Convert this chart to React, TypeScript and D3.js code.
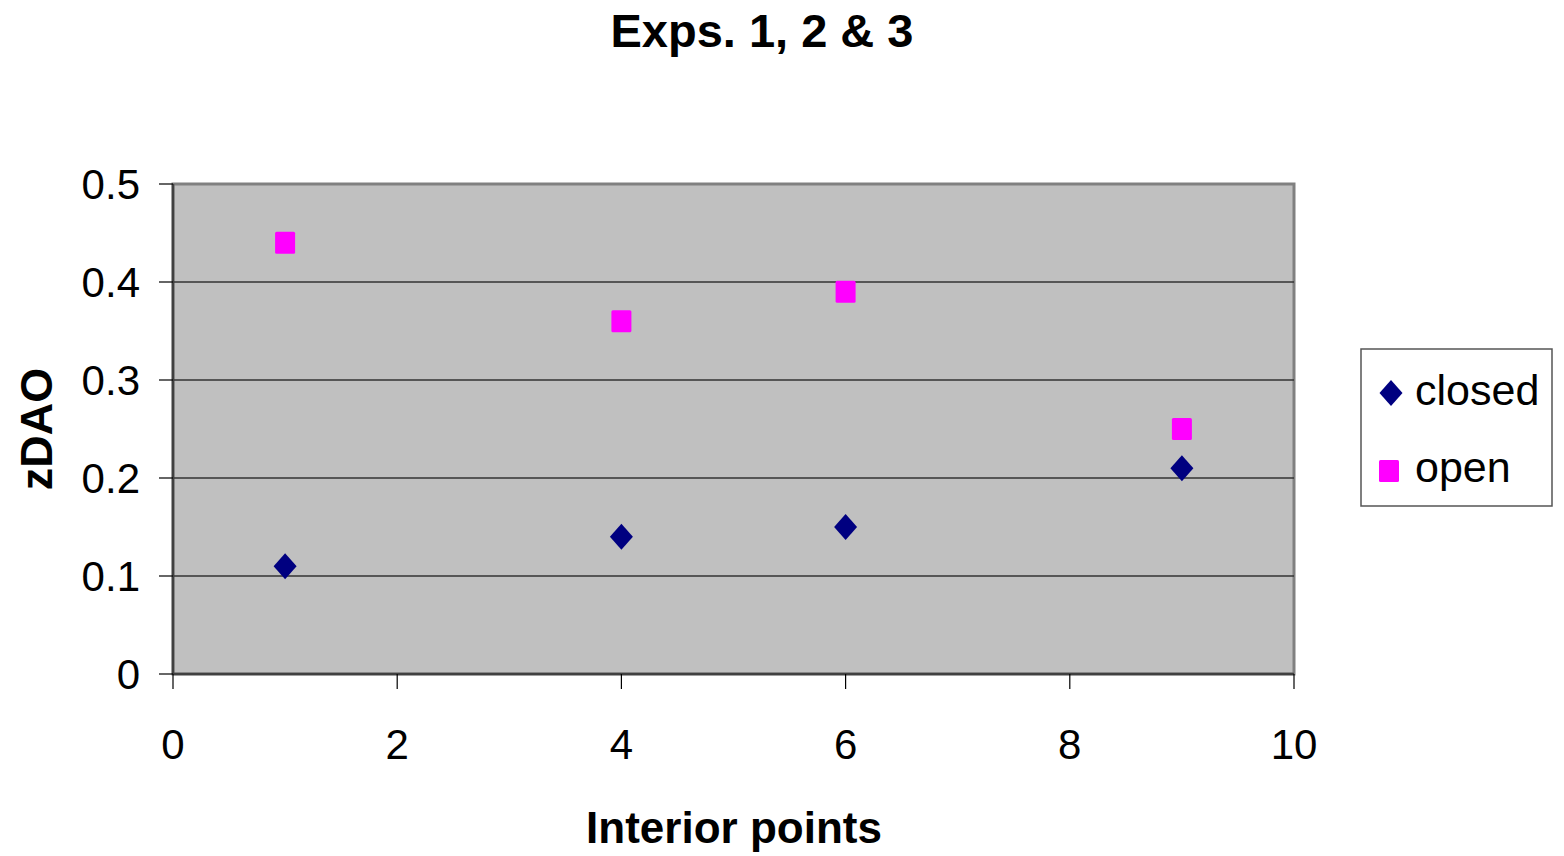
import React from "react";
import * as d3 from "d3";

const xClosed = [1, 4, 6, 9];
const yClosed = [0.11, 0.14, 0.15, 0.21];
const xOpen = [1, 4, 6, 9];
const yOpen = [0.44, 0.36, 0.39, 0.25];
const xTicks = [0, 2, 4, 6, 8, 10];
const yTicks = [0, 0.1, 0.2, 0.3, 0.4, 0.5];
const seriesNames = ["closed", "open"];
const title = "Exps. 1, 2 & 3";
const xTitle = "Interior points";
const yTitle = "zDAO";

const W = 1564;
const H = 856;
const plot = { left: 173, top: 184, right: 1294, bottom: 674 };
const FONT = "'Liberation Sans', Arial, sans-serif";

export default function App() {
  const x = d3.scaleLinear().domain([0, 10]).range([plot.left, plot.right]);
  const y = d3.scaleLinear().domain([0, 0.5]).range([plot.bottom, plot.top]);
  const fmtY = (v: number) => (v === 0 ? "0" : d3.format(".1f")(v));

  const diamond = (cx: number, cy: number, w = 23, h = 26) =>
    `M${cx},${cy - h / 2}L${cx + w / 2},${cy}L${cx},${cy + h / 2}L${cx - w / 2},${cy}Z`;

  return (
    <svg
      width={W}
      height={H}
      style={{ position: "absolute", left: 0, top: 0, background: "#fff" }}
      fontFamily={FONT}
    >
      <rect x={0} y={0} width={W} height={H} fill="#fff" />
      <text x={762} y={47} textAnchor="middle" fontSize={47} fontWeight="bold">
        {title}
      </text>

      {/* plot area */}
      <rect
        x={plot.left}
        y={plot.top}
        width={plot.right - plot.left}
        height={plot.bottom - plot.top}
        fill="#c0c0c0"
        stroke="#808080"
        strokeWidth={3}
      />
      {yTicks
        .filter((t) => t > 0 && t < 0.5)
        .map((t) => (
          <line
            key={"g" + t}
            x1={plot.left}
            x2={plot.right}
            y1={y(t)}
            y2={y(t)}
            stroke="#333"
            strokeWidth={1.3}
          />
        ))}
      <line x1={plot.left} x2={plot.left} y1={plot.top} y2={plot.bottom} stroke="#404040" strokeWidth={2.5} />
      <line x1={plot.left} x2={plot.right} y1={plot.bottom} y2={plot.bottom} stroke="#404040" strokeWidth={2.5} />

      {/* y ticks */}
      {yTicks.map((t) => (
        <g key={"y" + t}>
          <line x1={plot.left - 14} x2={plot.left} y1={y(t)} y2={y(t)} stroke="#000" strokeWidth={1.2} />
          <text x={140} y={y(t) + 15} textAnchor="end" fontSize={42}>
            {fmtY(t)}
          </text>
        </g>
      ))}
      {/* x ticks */}
      {xTicks.map((t) => (
        <g key={"x" + t}>
          <line x1={x(t)} x2={x(t)} y1={plot.bottom} y2={plot.bottom + 15} stroke="#000" strokeWidth={1.2} />
          <text x={x(t)} y={759} textAnchor="middle" fontSize={42}>
            {t}
          </text>
        </g>
      ))}

      <text x={734} y={843} textAnchor="middle" fontSize={44} fontWeight="bold">
        {xTitle}
      </text>
      <text
        transform={`translate(52,${(plot.top + plot.bottom) / 2}) rotate(-90)`}
        textAnchor="middle"
        fontSize={45}
        fontWeight="bold"
      >
        {yTitle}
      </text>

      {/* points */}
      {xClosed.map((v, i) => (
        <path key={"c" + i} d={diamond(x(v), y(yClosed[i]))} fill="#000080" />
      ))}
      {xOpen.map((v, i) => (
        <rect
          key={"o" + i}
          x={x(v) - 10}
          y={y(yOpen[i]) - 11}
          width={20}
          height={22}
          rx={1.5}
          fill="#ff00ff"
        />
      ))}

      {/* legend */}
      <rect x={1361} y={349} width={191} height={157} fill="#fff" stroke="#555" strokeWidth={1.5} />
      <path d={diamond(1391, 393)} fill="#000080" />
      <text x={1415} y={405} fontSize={43}>
        {seriesNames[0]}
      </text>
      <rect x={1379} y={460} width={20} height={22} rx={1.5} fill="#ff00ff" />
      <text x={1415} y={482} fontSize={43}>
        {seriesNames[1]}
      </text>
    </svg>
  );
}
